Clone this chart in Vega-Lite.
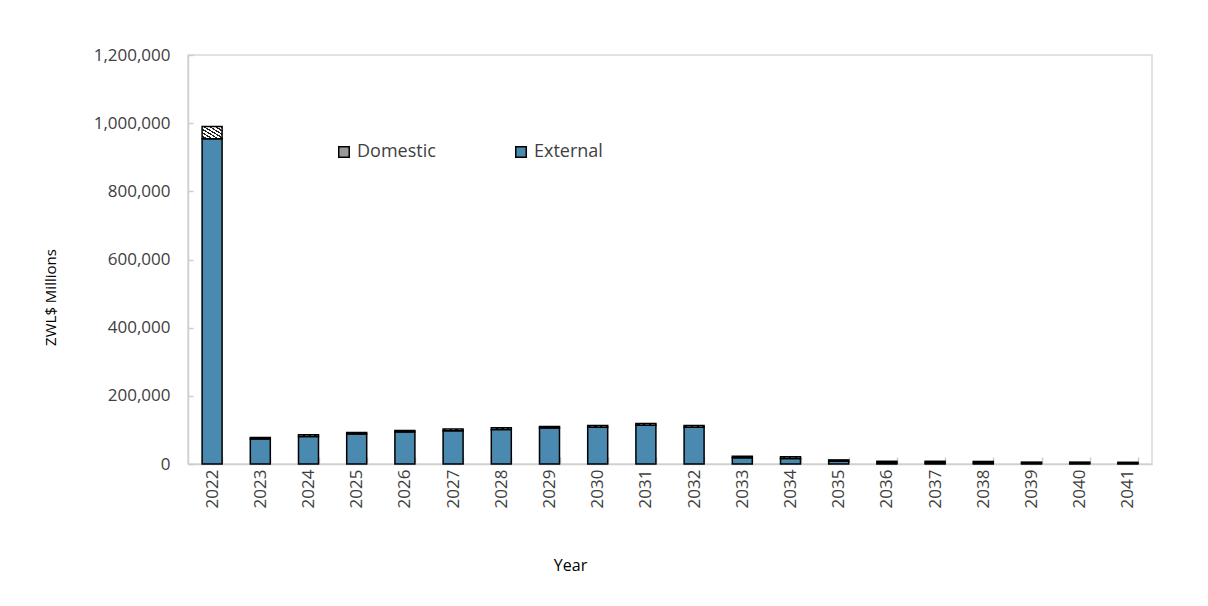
{
  "$schema": "https://vega.github.io/schema/vega-lite/v6.json",
  "width": 964,
  "height": 409,
  "autosize": {"type": "none"},
  "padding": {"left": 188, "top": 55, "right": 56, "bottom": 142},
  "background": "white",
  "config": {
    "view": {"stroke": "#d9d9d9", "strokeWidth": 1.5},
    "font": "Open Sans"
  },
  "data": {
    "values": [
      {"year": "2022", "type": "External", "value": 954000},
      {"year": "2022", "type": "Domestic", "value": 36000},
      {"year": "2023", "type": "External", "value": 73000},
      {"year": "2023", "type": "Domestic", "value": 5000},
      {"year": "2024", "type": "External", "value": 81000},
      {"year": "2024", "type": "Domestic", "value": 5000},
      {"year": "2025", "type": "External", "value": 87700},
      {"year": "2025", "type": "Domestic", "value": 5000},
      {"year": "2026", "type": "External", "value": 93600},
      {"year": "2026", "type": "Domestic", "value": 5000},
      {"year": "2027", "type": "External", "value": 97700},
      {"year": "2027", "type": "Domestic", "value": 5000},
      {"year": "2028", "type": "External", "value": 101500},
      {"year": "2028", "type": "Domestic", "value": 5000},
      {"year": "2029", "type": "External", "value": 105300},
      {"year": "2029", "type": "Domestic", "value": 5000},
      {"year": "2030", "type": "External", "value": 108000},
      {"year": "2030", "type": "Domestic", "value": 5000},
      {"year": "2031", "type": "External", "value": 114000},
      {"year": "2031", "type": "Domestic", "value": 5000},
      {"year": "2032", "type": "External", "value": 108000},
      {"year": "2032", "type": "Domestic", "value": 5000},
      {"year": "2033", "type": "External", "value": 18000},
      {"year": "2033", "type": "Domestic", "value": 5000},
      {"year": "2034", "type": "External", "value": 16000},
      {"year": "2034", "type": "Domestic", "value": 5000},
      {"year": "2035", "type": "External", "value": 8000},
      {"year": "2035", "type": "Domestic", "value": 4000},
      {"year": "2036", "type": "External", "value": 4000},
      {"year": "2036", "type": "Domestic", "value": 4000},
      {"year": "2037", "type": "External", "value": 4000},
      {"year": "2037", "type": "Domestic", "value": 4000},
      {"year": "2038", "type": "External", "value": 4000},
      {"year": "2038", "type": "Domestic", "value": 3500},
      {"year": "2039", "type": "External", "value": 2500},
      {"year": "2039", "type": "Domestic", "value": 3000},
      {"year": "2040", "type": "External", "value": 2500},
      {"year": "2040", "type": "Domestic", "value": 3000},
      {"year": "2041", "type": "External", "value": 2500},
      {"year": "2041", "type": "Domestic", "value": 2500}
    ]
  },
  "mark": {"type": "bar", "stroke": "black", "strokeWidth": 1.5},
  "encoding": {
    "x": {
      "field": "year",
      "type": "ordinal",
      "scale": {"paddingInner": 0.585, "paddingOuter": 0.2925},
      "axis": {
        "title": "Year",
        "titleFont": "Open Sans",
        "titleFontSize": 16,
        "titleFontWeight": "normal",
        "titleColor": "#000000",
        "titleX": 382,
        "titleY": 101,
        "titleBaseline": "middle",
        "titleAlign": "center",
        "labelAngle": -90,
        "labelFontSize": 17,
        "labelColor": "#404040",
        "labelPadding": 12,
        "domainColor": "#d0d0d0",
        "domainWidth": 1.5,
        "tickBand": "extent",
        "tickColor": "#cccccc",
        "tickSize": -7,
        "tickWidth": 1.5
      }
    },
    "y": {
      "field": "value",
      "type": "quantitative",
      "stack": "zero",
      "scale": {"domain": [0, 1200000], "nice": false},
      "axis": {
        "title": "ZWL$ Millions",
        "titleFont": "Open Sans",
        "titleFontSize": 15,
        "titleFontWeight": "normal",
        "titleColor": "#000000",
        "titleX": -138,
        "titleY": 242,
        "titleBaseline": "middle",
        "titleAlign": "center",
        "values": [0, 200000, 400000, 600000, 800000, 1000000, 1200000],
        "format": ",d",
        "labelFontSize": 17,
        "labelColor": "#404040",
        "labelPadding": 23,
        "grid": false,
        "domainColor": "#d0d0d0",
        "domainWidth": 1.5,
        "tickColor": "#cccccc",
        "tickSize": -5,
        "tickWidth": 1.5
      }
    },
    "fill": {
      "condition": {
        "test": "datum.type === 'Domestic'",
        "value": {
          "gradient": "linear",
          "x1": 0, "y1": 1, "x2": 1, "y2": 0,
          "stops": [
            {"offset": 0, "color": "#ffffff"},
            {"offset": 0.0857, "color": "#ffffff"},
            {"offset": 0.0857, "color": "#222222"},
            {"offset": 0.1429, "color": "#222222"},
            {"offset": 0.1429, "color": "#ffffff"},
            {"offset": 0.2286, "color": "#ffffff"},
            {"offset": 0.2286, "color": "#222222"},
            {"offset": 0.2857, "color": "#222222"},
            {"offset": 0.2857, "color": "#ffffff"},
            {"offset": 0.3714, "color": "#ffffff"},
            {"offset": 0.3714, "color": "#222222"},
            {"offset": 0.4286, "color": "#222222"},
            {"offset": 0.4286, "color": "#ffffff"},
            {"offset": 0.5143, "color": "#ffffff"},
            {"offset": 0.5143, "color": "#222222"},
            {"offset": 0.5714, "color": "#222222"},
            {"offset": 0.5714, "color": "#ffffff"},
            {"offset": 0.6571, "color": "#ffffff"},
            {"offset": 0.6571, "color": "#222222"},
            {"offset": 0.7143, "color": "#222222"},
            {"offset": 0.7143, "color": "#ffffff"},
            {"offset": 0.8, "color": "#ffffff"},
            {"offset": 0.8, "color": "#222222"},
            {"offset": 0.8571, "color": "#222222"},
            {"offset": 0.8571, "color": "#ffffff"},
            {"offset": 0.9429, "color": "#ffffff"},
            {"offset": 0.9429, "color": "#222222"},
            {"offset": 1, "color": "#222222"}
          ]
        }
      },
      "field": "type",
      "type": "nominal",
      "scale": {
        "domain": ["Domestic", "External"],
        "range": ["#999999", "#4a89b0"]
      },
      "legend": {
        "title": null,
        "orient": "none",
        "legendX": 147,
        "legendY": 88,
        "direction": "horizontal",
        "columns": 2,
        "columnPadding": 76,
        "symbolType": "square",
        "symbolSize": 110,
        "symbolStrokeColor": "black",
        "symbolStrokeWidth": 1.5,
        "labelFontSize": 18,
        "labelFont": "Open Sans",
        "labelColor": "#404040",
        "labelOffset": 4
      }
    },
    "order": {"field": "type", "sort": "descending"}
  }
}
